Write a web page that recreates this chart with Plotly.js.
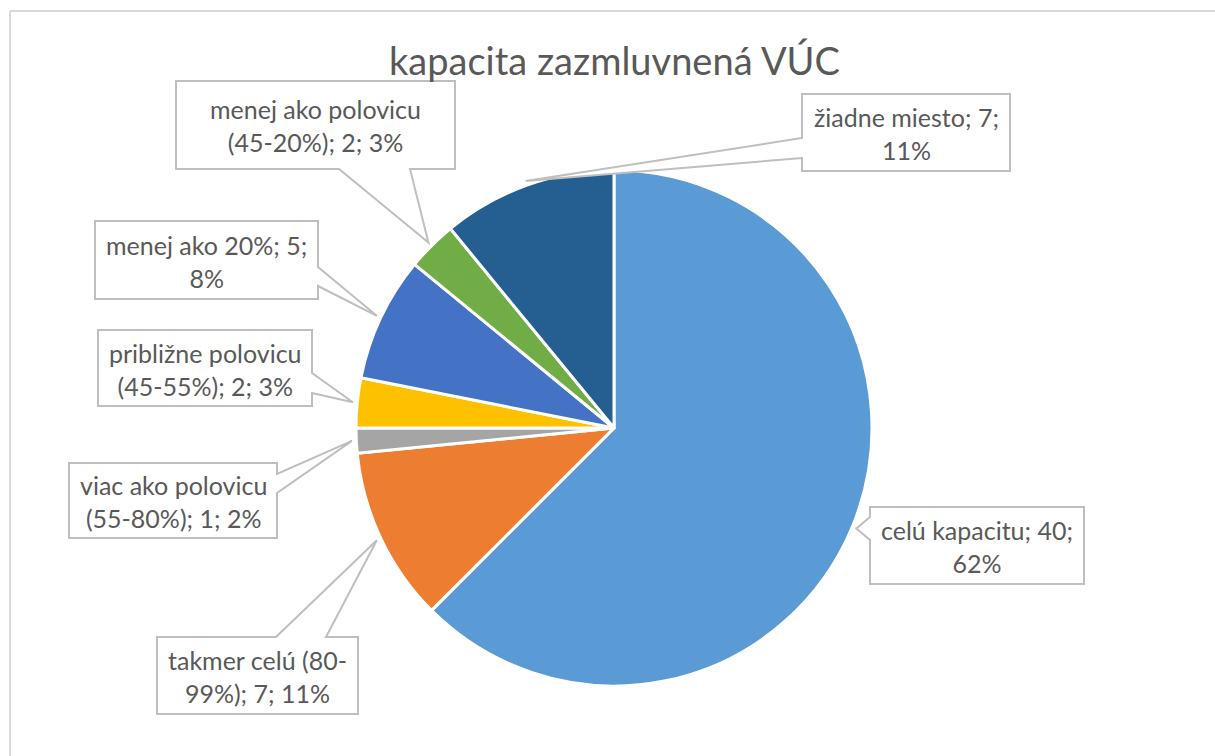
<!DOCTYPE html>
<html>
<head>
<meta charset="utf-8">
<script src="https://cdn.plot.ly/plotly-3.0.1.min.js"></script>
<style>html,body{margin:0;padding:0;background:#fff;}#chart{width:1215px;height:756px;}</style>
</head>
<body>
<div id="chart"></div>
<script>
// ---- data ----
var categories = [
  "celú kapacitu",
  "takmer celú (80-99%)",
  "viac ako polovicu (55-80%)",
  "približne polovicu (45-55%)",
  "menej ako 20%",
  "menej ako polovicu (45-20%)",
  "žiadne miesto"
];
var counts = [40, 7, 1, 2, 5, 2, 7];
var pctLabels = ["62%", "11%", "2%", "3%", "8%", "3%", "11%"];
var sliceColors = ["#5B9BD5", "#ED7D31", "#A5A5A5", "#FFC000", "#4472C4", "#70AD47", "#255E91"];
var chartTitle = "kapacita zazmluvnená VÚC";

// ---- layout geometry (pixels) ----
var W = 1215, H = 756;
var CX = 614, CY = 428, R = 258;
// callout boxes: [x0, y0, x1, y1], side of wedge base, base start, base end
var boxes = [
  {b: [870, 507, 1084, 584], side: "left",   s0: 517, s1: 540},
  {b: [157, 637, 358, 714],  side: "top",    s0: 276, s1: 326},
  {b: [69, 463, 277, 538],   side: "right",  s0: 474, s1: 493},
  {b: [98, 330, 312, 406],   side: "right",  s0: 373, s1: 393},
  {b: [95, 221, 318, 299],   side: "right",  s0: 267, s1: 286},
  {b: [176, 81, 455, 169],   side: "bottom", s0: 339, s1: 410},
  {b: [802, 94, 1010, 171],  side: "left",   s0: 138, s1: 158}
];

function px(x) { return x / W; }
function py(y) { return 1 - y / H; }

function wrap(text, maxChars) {
  var tokens = [];
  var re = /[^ \-]*-|[^ \-]+ */g, m;
  while ((m = re.exec(text)) !== null) { if (m[0].length) tokens.push(m[0]); }
  var lines = [], cur = "";
  tokens.forEach(function (t) {
    var cand = cur + t;
    if (cand.trim().length > maxChars && cur.length) {
      lines.push(cur.trim());
      cur = t;
    } else {
      cur = cand;
    }
  });
  if (cur.trim().length) lines.push(cur.trim());
  return lines.join("<br>");
}

var total = counts.reduce(function (a, b) { return a + b; }, 0);
var shapes = [];
var annotations = [];

// frame
shapes.push({type: "line", xref: "paper", yref: "paper", x0: px(10), y0: py(11), x1: px(W + 5), y1: py(11), line: {color: "#D9D9D9", width: 2}});
shapes.push({type: "line", xref: "paper", yref: "paper", x0: px(10), y0: py(11), x1: px(10), y1: py(H + 5), line: {color: "#D9D9D9", width: 2}});

var cum = 0;
for (var i = 0; i < counts.length; i++) {
  var mid = (cum + counts[i] / 2) / total * 2 * Math.PI;
  cum += counts[i];
  var tx = CX + R * 1.017 * Math.sin(mid);
  var ty = CY - R * 1.017 * Math.cos(mid);
  var bx = boxes[i], b = bx.b;
  var pts;
  if (bx.side === "left") {
    pts = [[b[0], b[1]], [b[2], b[1]], [b[2], b[3]], [b[0], b[3]], [b[0], bx.s1], [tx, ty], [b[0], bx.s0]];
  } else if (bx.side === "right") {
    pts = [[b[0], b[1]], [b[2], b[1]], [b[2], bx.s0], [tx, ty], [b[2], bx.s1], [b[2], b[3]], [b[0], b[3]]];
  } else if (bx.side === "top") {
    pts = [[b[0], b[1]], [bx.s0, b[1]], [tx, ty], [bx.s1, b[1]], [b[2], b[1]], [b[2], b[3]], [b[0], b[3]]];
  } else {
    pts = [[b[0], b[1]], [b[2], b[1]], [b[2], b[3]], [bx.s1, b[3]], [tx, ty], [bx.s0, b[3]], [b[0], b[3]]];
  }
  var path = pts.map(function (p, k) { return (k ? "L" : "M") + px(p[0]).toFixed(5) + "," + py(p[1]).toFixed(5); }).join(" ") + " Z";
  shapes.push({type: "path", xref: "paper", yref: "paper", path: path, fillcolor: "#FFFFFF", line: {color: "#BFBFBF", width: 2}, layer: "above"});
  annotations.push({
    xref: "paper", yref: "paper",
    x: px((b[0] + b[2]) / 2), y: py((b[1] + b[3]) / 2 + 1),
    xanchor: "center", yanchor: "middle", align: "center", showarrow: false,
    text: wrap(categories[i] + "; " + counts[i] + "; " + pctLabels[i], 19),
    font: {family: "Lato, 'Open Sans', sans-serif", size: 25, color: "#595959"}
  });
}

var trace = {
  type: "pie",
  labels: categories,
  values: counts,
  sort: false,
  direction: "clockwise",
  rotation: 0,
  textinfo: "none",
  hoverinfo: "label+value+percent",
  marker: {colors: sliceColors, line: {color: "#FFFFFF", width: 3}},
  domain: {x: [px(CX - R), px(CX + R)], y: [py(CY + R), py(CY - R)]},
  showlegend: false
};

var layout = {
  width: W, height: H,
  margin: {l: 0, r: 0, t: 0, b: 0},
  paper_bgcolor: "#FFFFFF",
  showlegend: false,
  title: {
    text: chartTitle,
    x: px(614.5), xanchor: "center",
    y: py(62), yanchor: "middle",
    xref: "paper", yref: "paper",
    font: {family: "Lato, 'Open Sans', sans-serif", size: 38, color: "#595959"}
  },
  shapes: shapes,
  annotations: annotations
};

Plotly.newPlot("chart", [trace], layout, {displayModeBar: false, staticPlot: true});
</script>
</body>
</html>
